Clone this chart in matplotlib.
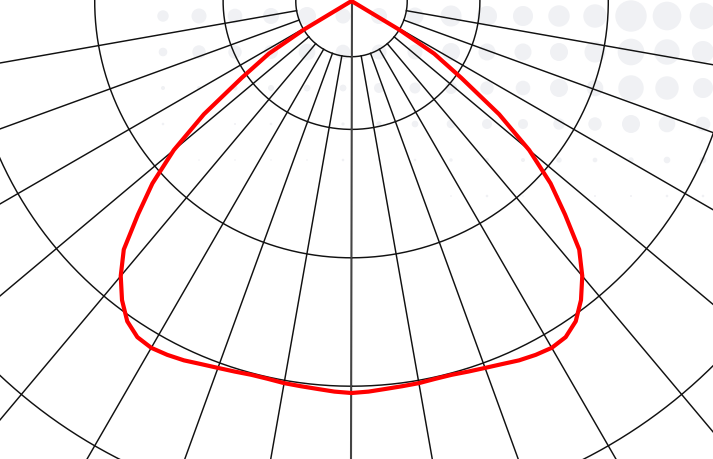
import numpy as np
import matplotlib
matplotlib.use("Agg")
import matplotlib.pyplot as plt
from matplotlib.patches import Circle

# ---------------- data ----------------
# luminous intensity profile (symmetric), angle from nadir in degrees
HALF_ANGLES = [0, 2.5, 5, 7.5, 10, 12.5, 15, 17.5, 20, 22.5, 25, 27.5, 30,
               32.5, 35, 37.5, 40, 42.5, 45, 47.5, 50, 52.5, 55, 57.5, 59, 60, 90]
HALF_VALUES = [305.3, 304.5, 303.3, 302.6, 302.2, 301.4, 301.4, 302.6, 304.1,
               306.1, 308.8, 310.7, 311.9, 310.4, 304.5, 293.6, 279.6, 262.5,
               235.2, 210.3, 180.7, 144.9, 104.4, 76.3, 43.6, 0, 0]

RING_VALUES = [100, 200, 300, 400, 500]
INNER_RING = 43.4
SPOKE_ANGLES = [-80, -70, -60, -50, -40, -30, -20, -10, 10, 20, 30, 40, 50, 60, 70, 80]

# decorative halftone dots (radius in px), rows top->bottom, cols left->right
DOT_RADII = [
    [5.7, 7.5, 7.3, 8.0, 9.0, 7.5, 8.0, 8.5, 10.5, 10.0, 10.0, 10.7, 11.7, 15.7, 14.3, 13.3],
    [4.3, 6.7, 6.7, 7.0, 8.3, 7.3, 7.5, 7.5, 9.0, 8.5, 8.5, 9.0, 10.5, 13.3, 12.7, 11.0],
    [2.0, 2.0, 2.5, 3.0, 3.4, 3.4, 5.0, 5.5, 6.0, 6.7, 7.3, 9.0, 8.3, 12.7, 11.7, 10.0],
    [1.3, 1.0, 1.0, 1.3, 1.3, 1.6, 2.7, 3.3, 4.3, 5.0, 5.0, 5.7, 6.7, 9.0, 8.3, 7.3],
    [0.8, 0.8, 0.8, 0.8, 0.8, 1.3, 1.3, 1.3, 1.7, 2.0, 2.0, 2.7, 2.3, 2.7, 3.3, 3.3],
    [0.0, 0.0, 0.0, 0.0, 0.0, 0.0, 0.0, 0.0, 0.8, 1.3, 0.8, 0.8, 1.0, 1.0, 1.3, 1.3],
]

# ---------------- layout ----------------
W, H = 713, 459
CX, CY = 351.5, 1.0          # pole position in pixels (from top-left)
PX_PER_UNIT = 1.284
R_PX = 640

fig = plt.figure(figsize=(W / 100, H / 100), dpi=100)
fig.patch.set_facecolor("white")

# background dots
bg = fig.add_axes([0, 0, 1, 1])
bg.set_xlim(0, W)
bg.set_ylim(H, 0)
bg.axis("off")
for j, row in enumerate(DOT_RADII):
    for k, rad in enumerate(row):
        if rad > 0:
            bg.add_patch(Circle((163 + 36 * k, 16 + 36 * j), rad,
                                facecolor="#f0f1f4", edgecolor="none"))

# polar diagram
ax = fig.add_axes([(CX - R_PX) / W, (H - CY - R_PX) / H, 2 * R_PX / W, 2 * R_PX / H],
                  projection="polar")
ax.set_theta_zero_location("S")
rmax = R_PX / PX_PER_UNIT
ax.set_rlim(0, rmax)
ax.grid(False)
ax.set_xticks([])
ax.set_yticks([])
ax.spines["polar"].set_visible(False)
ax.set_facecolor("none")

full = np.linspace(0, 2 * np.pi, 1441)
for rv in [INNER_RING] + RING_VALUES:
    ax.plot(full, np.full_like(full, rv), color="#111111", lw=1.05, zorder=2)

for a in SPOKE_ANGLES:
    t = np.deg2rad(a)
    ax.plot([t, t], [INNER_RING, rmax], color="#111111", lw=1.05, zorder=2)
ax.plot([0, 0], [0, rmax], color="#444444", lw=1.5, zorder=2)

ang = np.array(HALF_ANGLES, dtype=float)
val = np.array(HALF_VALUES, dtype=float)
theta = np.deg2rad(np.concatenate([-ang[::-1], ang[1:]]))
rr = np.concatenate([val[::-1], val[1:]])
ax.plot(theta, rr, color="#ff0000", lw=3.0, solid_joinstyle="round",
        solid_capstyle="round", zorder=3)

fig.savefig("out.png", dpi=100, facecolor="white")
